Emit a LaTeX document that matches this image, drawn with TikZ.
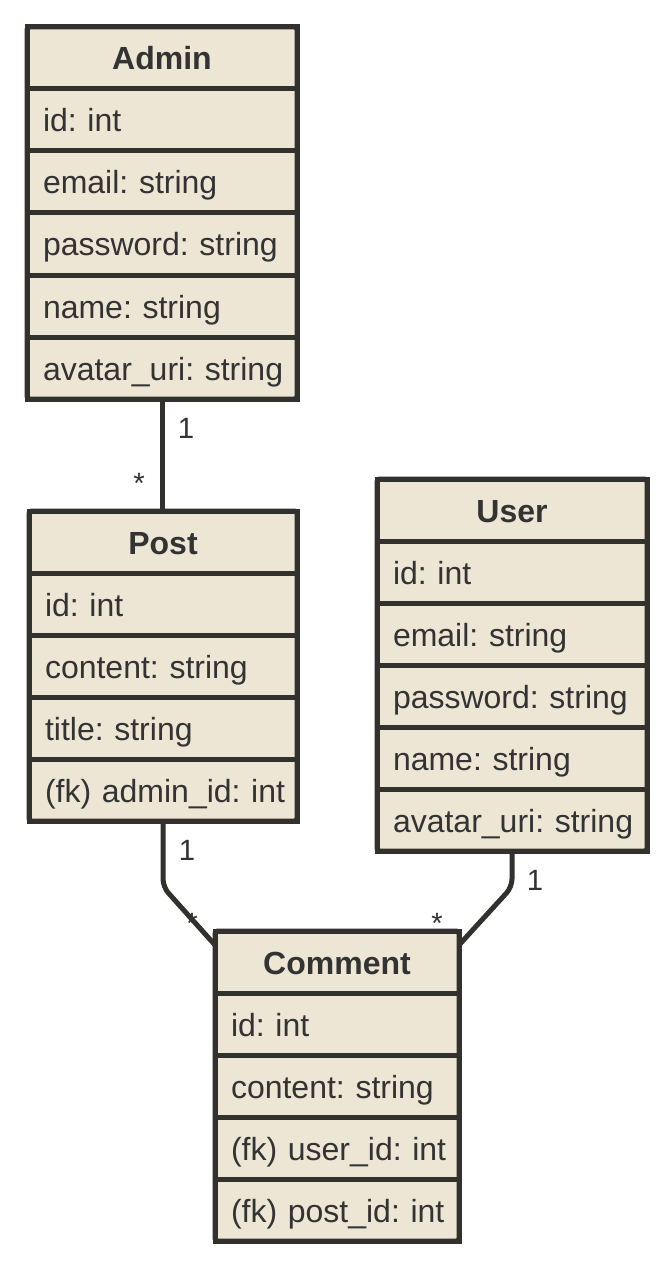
\documentclass[tikz,border=0pt]{standalone}
\usepackage{fontspec}
\setmainfont{Liberation Sans}
\usetikzlibrary{calc}
\definecolor{boxfill}{HTML}{EEE6D5}
\definecolor{boxline}{HTML}{33312D}
\definecolor{txt}{HTML}{333333}
\frenchspacing
\tikzset{
  row/.style={draw=boxline, fill=boxfill, line width=3.75pt, outer sep=0pt,
    inner ysep=0pt, inner xsep=12pt, minimum height=46.5pt, anchor=north west,
    align=left, text=txt, text height=20pt, text depth=2pt,
    font=\fontsize{24}{28}\selectfont\frenchspacing},
  hdr/.style={row, align=center, font=\fontsize{24}{28}\selectfont\bfseries},
  frame/.style={draw=boxline, line width=3.75pt, rounded corners=2pt},
  conn/.style={draw=boxline, line width=3.75pt, rounded corners=6pt},
  lbl/.style={text=txt, font=\fontsize{22}{26}\selectfont, inner sep=0pt}
}
\begin{document}
\begin{tikzpicture}[x=0.75pt,y=-0.75pt]
\useasboundingbox (0,0) rectangle (671,1266);
% Admin
\begin{scope}[every node/.append style={text width=178.5pt, minimum width=202.5pt}]
\node[hdr] (admin0) at (27,27) {Admin};
\node[row] (admin1) at (27,89) {\mbox{id: int}};
\node[row] (admin2) at (27,151) {\mbox{email: string}};
\node[row] (admin3) at (27,213) {\mbox{password: string}};
\node[row] (admin4) at (27,275) {\mbox{name: string}};
\node[row] (admin5) at (27,337) {\mbox{avatar\_uri: string}};
\end{scope}
\draw[frame] (admin0.north west) rectangle (admin5.south east);
% Post
\begin{scope}[every node/.append style={text width=177pt, minimum width=201pt}]
\node[hdr] (post0) at (29,511) {Post};
\node[row] (post1) at (29,573) {\mbox{id: int}};
\node[row] (post2) at (29,635) {\mbox{content: string}};
\node[row] (post3) at (29,697) {\mbox{title: string}};
\node[row] (post4) at (29,759) {\mbox{(fk) admin\_id: int}};
\end{scope}
\draw[frame] (post0.north west) rectangle (post4.south east);
% User
\begin{scope}[every node/.append style={text width=178.5pt, minimum width=202.5pt}]
\node[hdr] (user0) at (377,479) {User};
\node[row] (user1) at (377,541) {\mbox{id: int}};
\node[row] (user2) at (377,603) {\mbox{email: string}};
\node[row] (user3) at (377,665) {\mbox{password: string}};
\node[row] (user4) at (377,727) {\mbox{name: string}};
\node[row] (user5) at (377,789) {\mbox{avatar\_uri: string}};
\end{scope}
\draw[frame] (user0.north west) rectangle (user5.south east);
% Comment
\begin{scope}[every node/.append style={text width=159pt, minimum width=183pt}]
\node[hdr] (comment0) at (215,931) {Comment};
\node[row] (comment1) at (215,993) {\mbox{id: int}};
\node[row] (comment2) at (215,1055) {\mbox{content: string}};
\node[row] (comment3) at (215,1117) {\mbox{(fk) user\_id: int}};
\node[row] (comment4) at (215,1179) {\mbox{(fk) post\_id: int}};
\end{scope}
\draw[frame] (comment0.north west) rectangle (comment4.south east);
% connectors
\draw[conn] (admin5.south) -- (admin5.south |- post0.north);
\draw[conn] (post4.south) -- ++(0,66) -- ($(comment0.north west)+(0,14)$);
\draw[conn] (user5.south) -- ++(0,36) -- ($(comment0.north east)+(0,14)$);
% labels
\node[lbl] (l1) at (186,428) {1};
\node[lbl] (l2) at (139,483) {*};
\node[lbl] (l3) at (187,850) {1};
\node[lbl] (l4) at (192,923) {*};
\node[lbl] (l5) at (535,880) {1};
\node[lbl] (l6) at (437,923) {*};
\end{tikzpicture}
\end{document}
